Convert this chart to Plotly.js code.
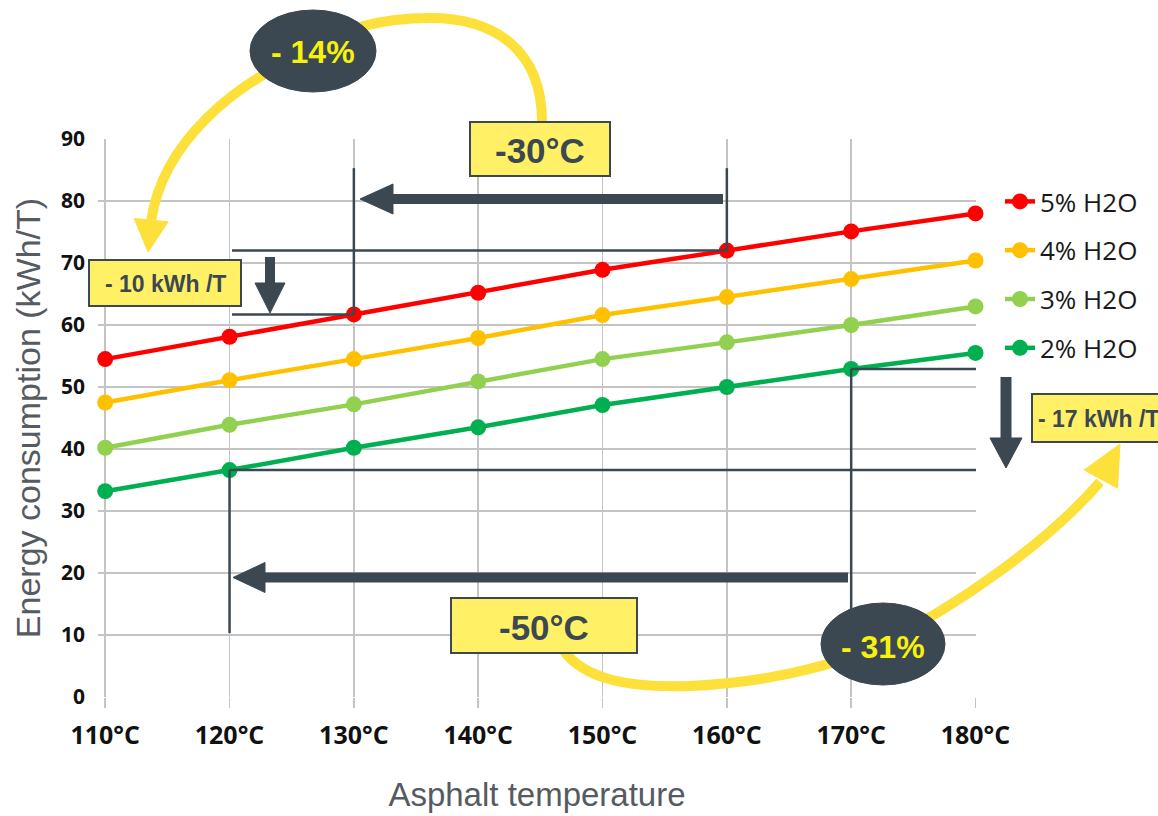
<!DOCTYPE html>
<html><head><meta charset="utf-8">
<script src="https://cdn.plot.ly/plotly-3.0.1.min.js"></script>
<style>html,body{margin:0;padding:0;background:#fff}#chart{width:1158px;height:816px}</style>
</head><body><div id="chart"></div><script>
// ---- data ----
const temperatures = [110, 120, 130, 140, 150, 160, 170, 180];
const tickLabels = ['110°C', '120°C', '130°C', '140°C', '150°C', '160°C', '170°C', '180°C'];
const h2o5 = [54.5, 58.1, 61.7, 65.2, 68.9, 72.0, 75.1, 78.0];
const h2o4 = [47.5, 51.1, 54.5, 57.9, 61.6, 64.5, 67.4, 70.4];
const h2o3 = [40.2, 43.9, 47.2, 50.9, 54.5, 57.2, 60.0, 63.0];
const h2o2 = [33.2, 36.6, 40.2, 43.5, 47.1, 50.0, 52.9, 55.5];
const seriesNames = ['5% H2O', '4% H2O', '3% H2O', '2% H2O'];
const seriesColors = ['#FF0000', '#FFC000', '#92D050', '#00B050'];
const seriesValues = [h2o5, h2o4, h2o3, h2o2];
const calloutTexts = ['- 14%', '-30°C', '- 10 kWh /T', '- 17 kWh /T', '-50°C', '- 31%'];

// ---- geometry helpers (decorations only) ----
const W = 1158, H = 816;
const L = 98, R = 976, T = 139, B = 697;
const fx = p => (p - L) / (R - L);
const fy = p => (B - p) / (B - T);
const pt = (x, y) => fx(x).toFixed(5) + ',' + fy(y).toFixed(5);

const DARK = '#3B4751';
const YEL = '#FDE03A';
const BOX = '#FFF066';
const TXTY = '#F6F20C';

const traces = seriesValues.map((vals, i) => ({
  type: 'scatter', mode: 'lines+markers',
  x: temperatures, y: vals, name: seriesNames[i],
  legendgroup: 'g' + i,
  line: {color: seriesColors[i], width: 4.5},
  marker: {color: seriesColors[i], size: 16},
  cliponaxis: false, hoverinfo: 'x+y+name'
}));

const shapes = [];
function pathPx(d, fill, lineColor, lineWidth) {
  shapes.push({type: 'path', xref: 'paper', yref: 'paper', path: d,
    fillcolor: fill || 'rgba(0,0,0,0)', line: {color: lineColor || 'rgba(0,0,0,0)', width: lineWidth || 0}});
}
function tri(tipX, tipY, dirX, dirY, len, half, color) {
  const n = Math.hypot(dirX, dirY); const ux = dirX / n, uy = dirY / n;
  const bx = tipX - ux * len, by = tipY - uy * len;
  const px = -uy, py = ux;
  pathPx('M' + pt(tipX, tipY) + ' L' + pt(bx + px * half, by + py * half) + ' L' + pt(bx - px * half, by - py * half) + ' Z', color, color, 1);
}
function linePx(x0, y0, x1, y1, color, width) {
  shapes.push({type: 'line', xref: 'paper', yref: 'paper', x0: fx(x0), y0: fy(y0), x1: fx(x1), y1: fy(y1), line: {color: color, width: width}});
}
function lineData(x0, y0, x1, y1) {
  shapes.push({type: 'line', xref: 'x', yref: 'y', x0: x0, y0: y0, x1: x1, y1: y1, line: {color: DARK, width: 2.5}});
}
function rectPx(x0, y0, x1, y1) {
  shapes.push({type: 'rect', xref: 'paper', yref: 'paper', x0: fx(x0), y0: fy(y1), x1: fx(x1), y1: fy(y0), fillcolor: BOX, line: {color: DARK, width: 2}});
}
function ellPx(cx, cy, rx, ry) {
  shapes.push({type: 'circle', xref: 'paper', yref: 'paper', x0: fx(cx - rx), x1: fx(cx + rx), y0: fy(cy + ry), y1: fy(cy - ry), fillcolor: DARK, line: {color: DARK, width: 1}});
}

// thin reference lines tied to data points
const yTop = 85.3;
lineData(120.2, h2o5[5], 160, h2o5[5]);
lineData(120.2, h2o5[2], 130, h2o5[2]);
lineData(130, h2o5[2], 130, yTop);
lineData(160, h2o5[5], 160, yTop);
lineData(170, h2o2[6], 185.5, h2o2[6]);
lineData(120, h2o2[1], 185.5, h2o2[1]);
lineData(170, h2o2[6], 170, 13);
lineData(120, h2o2[1], 120, 10.3);

// yellow curved arrows
pathPx('M' + pt(542, 122) + ' C' + pt(542, 50) + ' ' + pt(495, 18) + ' ' + pt(430, 18) +
       ' C' + pt(380, 18) + ' ' + pt(340, 30) + ' ' + pt(313, 50) +
       ' C' + pt(235, 82) + ' ' + pt(162, 142) + ' ' + pt(151, 222), null, YEL, 10);
tri(148, 252, -0.1, 1, 32, 17, YEL);
pathPx('M' + pt(563, 650) + ' C' + pt(585, 680) + ' ' + pt(630, 688) + ' ' + pt(690, 686) +
       ' C' + pt(780, 682) + ' ' + pt(850, 660) + ' ' + pt(882, 643) +
       ' C' + pt(960, 605) + ' ' + pt(1050, 540) + ' ' + pt(1100, 482), null, YEL, 10);
tri(1120, 444, 0.48, -0.88, 40, 19, YEL);

// thick dark arrows
linePx(723, 199, 390, 199, DARK, 10);
tri(360, 199, -1, 0, 33, 15, DARK);
linePx(848, 577.5, 262, 577.5, DARK, 10);
tri(233, 577.5, -1, 0, 32, 15, DARK);
linePx(270, 257, 270, 286, DARK, 10);
tri(270, 313, 0, 1, 30, 15, DARK);
linePx(1006, 377, 1006, 440, DARK, 11);
tri(1006, 468, 0, 1, 30, 16, DARK);

// ellipses and boxes
ellPx(313, 51, 63, 41);
ellPx(883, 644, 62, 41);
rectPx(470, 122, 610, 176);
rectPx(89, 260, 241, 306);
rectPx(1032, 394, 1175, 442);
rectPx(451, 598, 637, 653);

const FB = 'Liberation Sans, Arial, sans-serif';
function ann(text, x, y, size, color, anchor) {
  return {text: text, xref: 'paper', yref: 'paper', x: fx(x), y: fy(y), xanchor: anchor || 'center', yanchor: 'middle',
    showarrow: false, font: {family: FB, size: size, color: color, weight: 'bold'}};
}
const annotations = [
  ann(calloutTexts[0], 313, 52, 32, TXTY),
  ann(calloutTexts[1], 540, 150, 35, DARK),
  ann(calloutTexts[2], 165, 284, 23, DARK),
  ann(calloutTexts[3], 1036, 419, 23, DARK, 'left'),
  ann(calloutTexts[4], 544, 627, 35, DARK),
  ann(calloutTexts[5], 883, 647, 32, TXTY)
];

const layout = {
  width: W, height: H,
  margin: {l: L, r: W - R, t: T, b: H - B, pad: 0},
  paper_bgcolor: '#fff', plot_bgcolor: '#fff',
  showlegend: true,
  legend: {x: fx(1000), y: fy(178), xanchor: 'left', yanchor: 'top', tracegroupgap: 12,
    font: {family: 'Open Sans, sans-serif', size: 26, color: '#1a1a1a'}, bgcolor: 'rgba(0,0,0,0)', itemwidth: 30},
  xaxis: {
    range: [109.42, 180.04], tickvals: temperatures, ticktext: tickLabels,
    showgrid: true, gridcolor: '#C4C4C4', gridwidth: 1.5, zeroline: false, showline: false,
    ticks: 'outside', ticklen: 10, tickcolor: '#C4C4C4', tickwidth: 1.5,
    ticklabelstandoff: 6,
    tickfont: {family: 'Open Sans, sans-serif', size: 25, color: '#111', weight: 'bold'},
    title: {text: 'Asphalt temperature', standoff: 32, font: {family: FB, size: 33, color: '#555B61'}},
    fixedrange: true
  },
  yaxis: {
    range: [0, 90], dtick: 10, tick0: 0,
    showgrid: true, gridcolor: '#C4C4C4', gridwidth: 1.5, zeroline: false, showline: false,
    ticks: '', ticklabelstandoff: 12,
    tickfont: {family: 'Open Sans, sans-serif', size: 21, color: '#111', weight: 'bold'},
    title: {text: 'Energy consumption (kWh/T)', standoff: 10, font: {family: FB, size: 34, color: '#555B61'}},
    fixedrange: true
  },
  shapes: shapes,
  annotations: annotations
};

Plotly.newPlot('chart', traces, layout, {displayModeBar: false, staticPlot: true});
</script></body></html>
